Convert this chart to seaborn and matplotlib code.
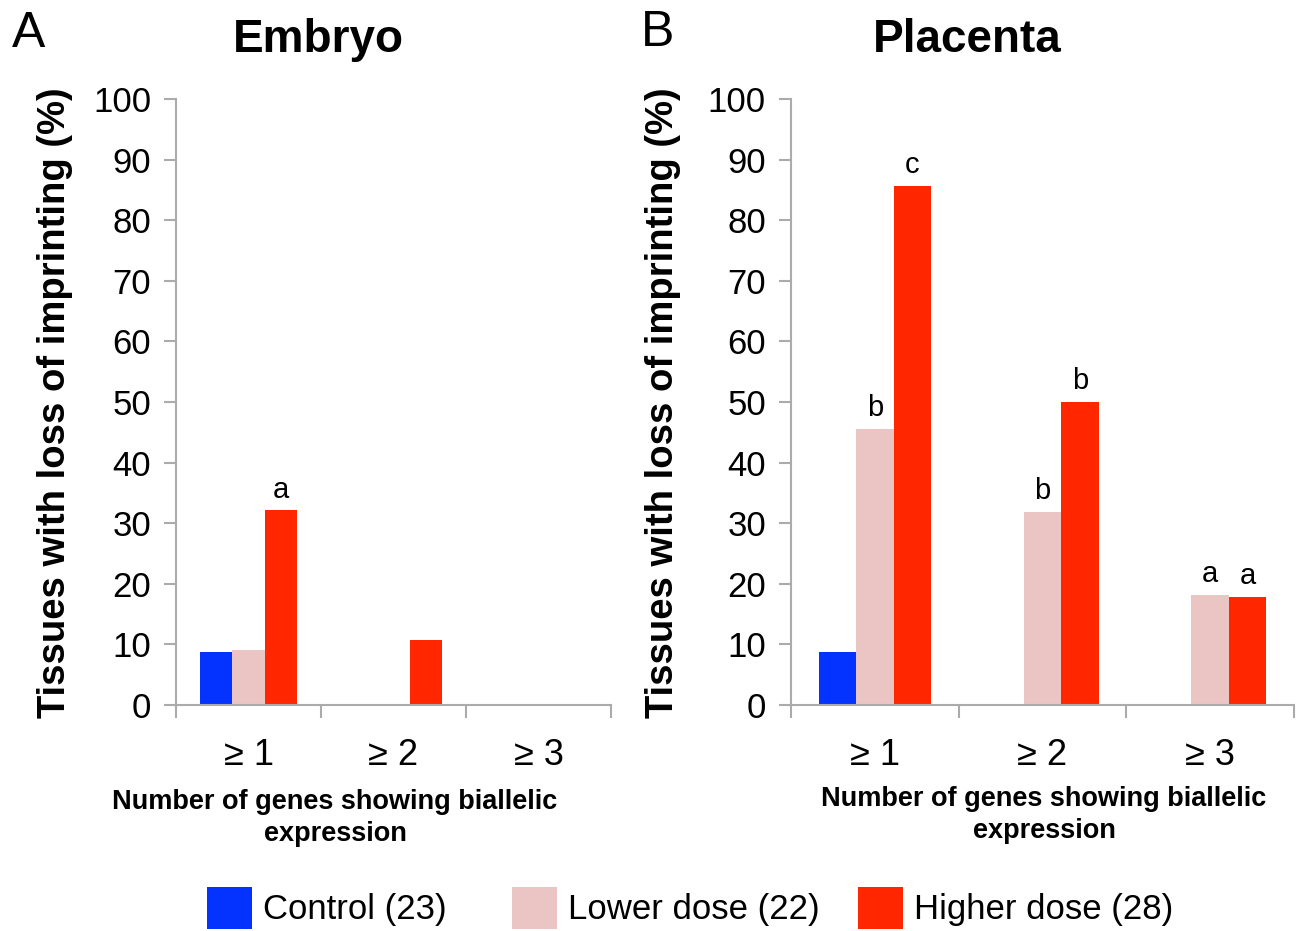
import pandas as pd
import matplotlib.pyplot as plt
import seaborn as sns
from matplotlib.patches import Patch
from matplotlib.ticker import FixedLocator

sns.set_style("white")
plt.rcParams['font.family'] = ['Liberation Sans', 'DejaVu Sans']
plt.rcParams['text.color'] = 'black'
plt.rcParams['xtick.labelcolor'] = 'black'
plt.rcParams['ytick.labelcolor'] = 'black'

# categories and groups
categories = ["\u2265 1", "\u2265 2", "\u2265 3"]
groups = ["Control (23)", "Lower dose (22)", "Higher dose (28)"]
colors = ["#0433FF", "#EBC5C4", "#FF2600"]

# % tissues with loss of imprinting
embryo_control = [8.7, 0, 0]
embryo_lower = [9.1, 0, 0]
embryo_higher = [32.1, 10.7, 0]

placenta_control = [8.7, 0, 0]
placenta_lower = [45.5, 31.8, 18.2]
placenta_higher = [85.7, 50.0, 17.9]

# significance letters over the bars
embryo_letters = [["", "", ""], ["", "", ""], ["a", "", ""]]
placenta_letters = [["", "", ""], ["b", "b", "a"], ["c", "b", "a"]]


def to_frame(ctrl, low, high):
    rows = []
    for g, vals in zip(groups, [ctrl, low, high]):
        for c, v in zip(categories, vals):
            rows.append({"cat": c, "group": g, "value": v})
    return pd.DataFrame(rows)


embryo = to_frame(embryo_control, embryo_lower, embryo_higher)
placenta = to_frame(placenta_control, placenta_lower, placenta_higher)

W, H = 1296, 931
fig = plt.figure(figsize=(W / 100, H / 100), dpi=100)
ax1 = fig.add_axes([176 / W, 1 - 705 / H, (611 - 176) / W, 606 / H])
ax2 = fig.add_axes([791 / W, 1 - 705 / H, (1294 - 791) / W, 606 / H])

palette = dict(zip(groups, colors))
spine_col = "#ABABAB"

for ax, df, letters in [(ax1, embryo, embryo_letters), (ax2, placenta, placenta_letters)]:
    sns.barplot(data=df, x="cat", y="value", hue="group", hue_order=groups,
                order=categories, palette=palette, width=0.67, gap=0,
                linewidth=0, saturation=1, legend=False, ax=ax)
    for cont, labs in zip(ax.containers, letters):
        ax.bar_label(cont, labels=labs, padding=5, fontsize=21)
    ax.set_ylim(0, 100)
    ax.set_xlim(-0.5, 2.5)
    ax.set_yticks(range(0, 101, 10))
    ax.set_xlabel("")
    ax.set_ylabel("")
    ax.xaxis.set_minor_locator(FixedLocator([-0.5, 0.5, 1.5, 2.5]))
    ax.tick_params(axis="x", which="major", length=0, pad=24, labelsize=26)
    ax.tick_params(axis="x", which="minor", length=9, width=1.5, color=spine_col, direction="out", bottom=True)
    ax.tick_params(axis="y", length=9, width=1.5, color=spine_col, direction="out", left=True,
                   labelsize=25, pad=9)
    for side in ["top", "right"]:
        ax.spines[side].set_visible(False)
    for side in ["left", "bottom"]:
        ax.spines[side].set_color(spine_col)
        ax.spines[side].set_linewidth(1.5)

# panel letters and titles
fig.text(29 / W, 1 - 34 / H, "A", fontsize=36, ha="center", va="center")
fig.text(658 / W, 1 - 33 / H, "B", fontsize=36, ha="center", va="center")
fig.text(318 / W, 1 - 40 / H, "Embryo", fontsize=33, fontweight="bold", ha="center", va="center")
fig.text(967 / W, 1 - 40 / H, "Placenta", fontsize=33, fontweight="bold", ha="center", va="center")

ylab = "Tissues with loss of imprinting (%)"
fig.text(55 / W, 1 - 403 / H, ylab, rotation=90, fontsize=27.5, fontweight="bold", ha="center", va="center")
fig.text(663 / W, 1 - 403 / H, ylab, rotation=90, fontsize=27.5, fontweight="bold", ha="center", va="center")

xlab = "Number of genes showing biallelic\nexpression"
fig.text(335 / W, 1 - 818 / H, xlab, fontsize=19.5, fontweight="bold", ha="center", va="center",
         multialignment="center", linespacing=1.3)
fig.text(1044 / W, 1 - 815 / H, xlab, fontsize=19.5, fontweight="bold", ha="center", va="center",
         multialignment="center", linespacing=1.3)

# legend entries placed one by one like the original layout
legend_x = [207, 512, 858]
for g, c, lx in zip(groups, colors, legend_x):
    fig.legend(handles=[Patch(facecolor=c, edgecolor="none", label=g)], loc="center left",
               bbox_to_anchor=(lx / W, 1 - 908 / H), frameon=False, fontsize=25,
               handlelength=1.3, handleheight=1.5, handletextpad=0.3,
               borderpad=0, borderaxespad=0)

fig.savefig("out.png", dpi=100)
